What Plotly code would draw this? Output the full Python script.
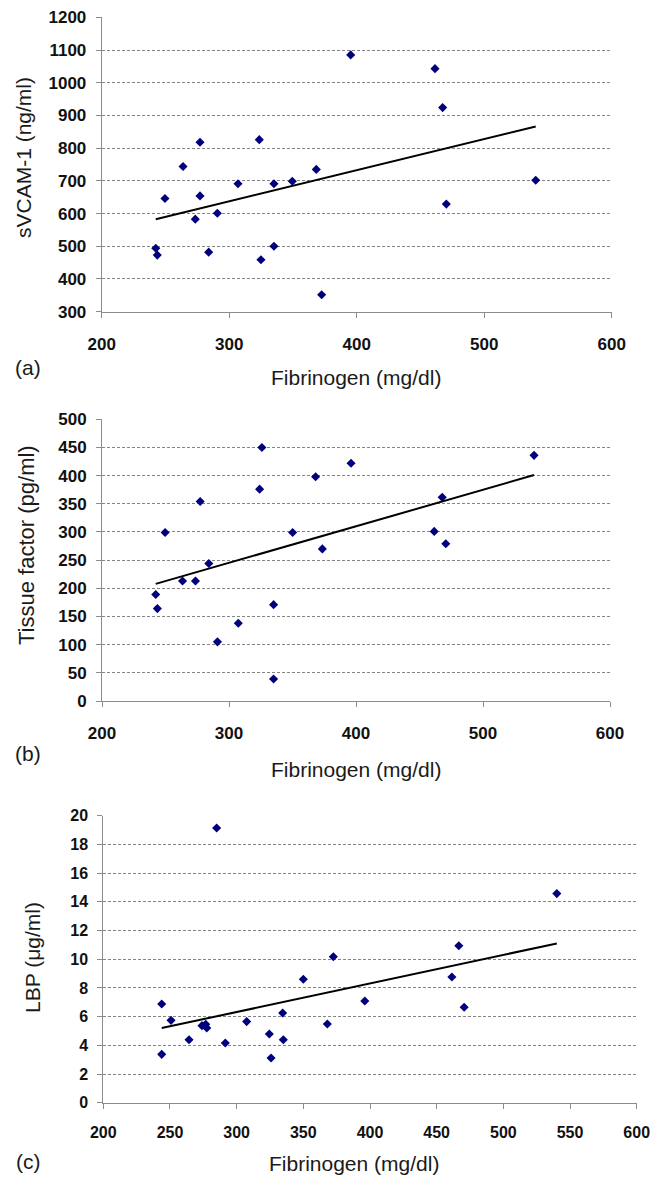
import numpy as np
import plotly.graph_objects as go

# ---------------- data ----------------
fib_a = [242.4, 243.6, 249.6, 263.8, 273.4, 277.1, 277.1, 283.9, 290.7, 306.9, 323.6,
         324.9, 335.1, 335.1, 349.5, 368.3, 372.5, 395.3, 461.4, 467.4, 470.3, 540.4]
svcam = [494, 473, 646, 744, 583, 818, 654, 482, 601, 691, 826,
         459, 691, 500, 699, 735, 352, 1085, 1043, 924, 629, 702]

fib_b = [242.3, 243.6, 249.7, 263.4, 273.6, 277.3, 284.1, 290.9, 307.3, 324.1, 325.9,
         335.1, 335.1, 350.1, 368.2, 373.5, 396.1, 461.6, 467.9, 470.7, 540.2]
tissue_factor = [189, 164, 299, 213, 213, 354, 244, 105, 138, 376, 450,
                 171, 39, 299, 398, 270, 422, 301, 361.5, 279, 436]

fib_c = [243.8, 243.8, 250.8, 264.3, 274.0, 276.8, 277.6, 285.0, 291.5, 307.5, 324.5,
         325.8, 334.5, 335.0, 350.0, 368.0, 372.5, 396.1, 461.4, 466.6, 470.6, 540.1]
lbp = [6.88, 3.37, 5.74, 4.39, 5.37, 5.46, 5.21, 19.14, 4.16, 5.65, 4.79,
       3.11, 6.25, 4.39, 8.6, 5.48, 10.17, 7.09, 8.76, 10.94, 6.65, 14.57]

y_titles = ["sVCAM-1 (ng/ml)", "Tissue factor (pg/ml)", "LBP (μg/ml)"]
x_title = "Fibrinogen (mg/dl)"
panel_labels = ["(a)", "(b)", "(c)"]
x_ranges = [[200, 600], [200, 600], [200, 600]]
x_dticks = [100, 100, 50]
y_ranges = [[300, 1200], [0, 500], [0, 20]]
y_dticks = [100, 50, 2]

# ---------------- layout geometry (pixels) ----------------
W, H = 653, 1177
plot_boxes = [  # left, right, top, bottom
    (101.7, 611.7, 17.3, 311.7),
    (102.0, 610.0, 419.3, 701.0),
    (103.3, 636.7, 815.7, 1102.7),
]
tick_sizes = [17, 17, 16]
x_standoffs = [12, 12, 10]
ytitle_pos = [(23, 158, 21), (26, 545, 22), (32, 958, 21)]
xtitle_pos = [(356, 378), (356, 769), (354, 1163)]
plabel_pos = [(28, 367), (28, 753), (28, 1161)]

def fx(p):
    return p / W

def fy(p):
    return 1 - p / H

FONT = "Liberation Sans"
NAVY = "#00007f"
AXIS = "#8c8c8c"

fig = go.Figure()
series = [(fib_a, svcam), (fib_b, tissue_factor), (fib_c, lbp)]
layout = {}
annotations = []
for i, (xs, ys) in enumerate(series):
    n = "" if i == 0 else str(i + 1)
    xa, ya = "x" + n, "y" + n
    fig.add_trace(go.Scatter(
        x=xs, y=ys, mode="markers", xaxis=xa, yaxis=ya,
        marker=dict(symbol="diamond", size=7, color=NAVY, line=dict(width=0)),
        showlegend=False, hoverinfo="x+y"))
    slope, intercept = np.polyfit(np.array(xs, float), np.array(ys, float), 1)
    tx = np.array([min(xs), max(xs)])
    fig.add_trace(go.Scatter(
        x=tx, y=slope * tx + intercept, mode="lines", xaxis=xa, yaxis=ya,
        line=dict(color="black", width=2), showlegend=False, hoverinfo="skip"))

    l, r, t, b = plot_boxes[i]
    layout["xaxis" + n] = dict(
        domain=[fx(l), fx(r)], anchor=ya, range=x_ranges[i], dtick=x_dticks[i],
        tick0=0, showgrid=False, zeroline=False, showline=True, linecolor=AXIS,
        linewidth=1, ticks="outside", ticklen=5, tickcolor=AXIS,
        ticklabelstandoff=x_standoffs[i], automargin=False,
        tickfont=dict(family=FONT, size=tick_sizes[i], color="#111", weight="bold"))
    layout["yaxis" + n] = dict(
        domain=[fy(b), fy(t)], anchor=xa, range=y_ranges[i], dtick=y_dticks[i],
        tick0=0, showgrid=True, gridcolor="#858585", gridwidth=1, griddash="3px,2px",
        zeroline=False, showline=True, linecolor=AXIS, linewidth=1,
        ticks="outside", ticklen=5, tickcolor=AXIS, ticklabelstandoff=6,
        automargin=False,
        tickfont=dict(family=FONT, size=tick_sizes[i], color="#111", weight="bold"))

    tx_, ty_, tsize = ytitle_pos[i]
    annotations.append(dict(
        text=y_titles[i], x=fx(tx_), y=fy(ty_), xref="paper", yref="paper",
        xanchor="center", yanchor="middle", textangle=-90, showarrow=False,
        font=dict(family=FONT, size=tsize, color="#1a1a1a")))
    xx, xy = xtitle_pos[i]
    annotations.append(dict(
        text=x_title, x=fx(xx), y=fy(xy), xref="paper", yref="paper",
        xanchor="center", yanchor="middle", showarrow=False,
        font=dict(family=FONT, size=21, color="#1a1a1a")))
    lx, ly = plabel_pos[i]
    annotations.append(dict(
        text=panel_labels[i], x=fx(lx), y=fy(ly), xref="paper", yref="paper",
        xanchor="center", yanchor="middle", showarrow=False,
        font=dict(family=FONT, size=21, color="#1a1a1a")))

fig.update_layout(
    width=W, height=H, margin=dict(l=0, r=0, t=0, b=0, autoexpand=False),
    paper_bgcolor="white", plot_bgcolor="white",
    annotations=annotations, **layout)

fig.write_html(
    "out.html",
    config={"displayModeBar": False},
    post_script=("document.body.style.margin='0';"
                 "document.body.style.padding='0';"
                 "document.body.style.overflow='hidden';"),
)
